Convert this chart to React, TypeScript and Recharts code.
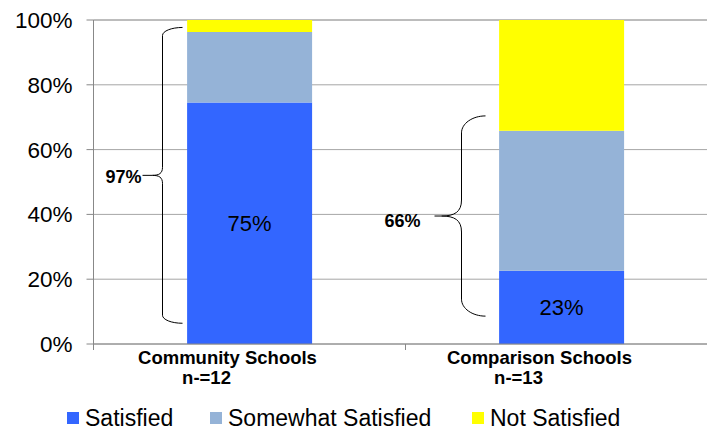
import React from 'react';
import {
  BarChart,
  Bar,
  XAxis,
  YAxis,
  CartesianGrid,
  Legend,
  LabelList,
  ReferenceArea,
} from 'recharts';

const categories = ['Community Schools', 'Comparison Schools'];
const sampleSizes = ['n-=12', 'n-=13'];
const satisfied = [74.5, 22.6];
const somewhatSatisfied = [21.8, 43.2];
const notSatisfied = [3.7, 34.2];
const braceLabels = ['97%', '66%'];
const braceLow = [6.4, 8.6];
const braceHigh = [97.7, 70.4];
const yTicks = [0, 20, 40, 60, 80, 100];

const SERIES = [
  { key: 'Satisfied', color: '#3366FF' },
  { key: 'Somewhat Satisfied', color: '#95B3D7' },
  { key: 'Not Satisfied', color: '#FFFF00' },
];

const data = categories.map((name, i) => ({
  name,
  Satisfied: satisfied[i],
  'Somewhat Satisfied': somewhatSatisfied[i],
  'Not Satisfied': notSatisfied[i],
}));

const FONT = '"Liberation Sans", Arial, sans-serif';
const CHART_W = 720;
const CHART_H = 430;
const Y_AXIS_W = 93.5;
const MARGIN = { top: 20, right: 2.5, left: 0, bottom: 36 };
const BAND = (CHART_W - Y_AXIS_W - MARGIN.left - MARGIN.right) / categories.length;

// per-brace look: x offset inside the band, tip width, cusp depth, curl heights, lead line, label gap
const braceStyles = [
  { offset: 69, tip: 20, curl: 8, cusp: 10, cuspH: 8, lead: 10, gap: 1, dy: 2 },
  { offset: 56, tip: 24, curl: 17, cusp: 20, cuspH: 16, lead: 7, gap: 14, dy: 5 },
];

function braceShape(i: number) {
  return (props: any) => {
    const { x, y, height } = props;
    if (x == null || y == null) return null;
    const s = braceStyles[i];
    const X = x + s.offset;
    const top = y;
    const bot = y + height;
    const mid = y + height / 2;
    const d = [
      `M${X + s.tip},${top}`,
      `C${X + s.tip * 0.45},${top} ${X},${top + s.curl * 0.45} ${X},${top + s.curl}`,
      `L${X},${mid - s.cuspH}`,
      `C${X},${mid - s.cuspH * 0.25} ${X - s.cusp * 0.35},${mid} ${X - s.cusp},${mid}`,
      `C${X - s.cusp * 0.35},${mid} ${X},${mid + s.cuspH * 0.25} ${X},${mid + s.cuspH}`,
      `L${X},${bot - s.curl}`,
      `C${X},${bot - s.curl * 0.45} ${X + s.tip * 0.45},${bot} ${X + s.tip},${bot}`,
    ].join(' ');
    const leadStart = X - s.cusp - s.lead;
    return (
      <g>
        <path d={d} fill="none" stroke="#000" strokeWidth={1} />
        <line x1={leadStart} y1={mid} x2={X - s.cusp} y2={mid} stroke="#000" strokeWidth={1} />
        <text
          x={leadStart - s.gap}
          y={mid + s.dy}
          textAnchor="end"
          dominantBaseline="central"
          fontFamily={FONT}
          fontWeight="bold"
          fontSize={18}
          fill="#000"
        >
          {braceLabels[i]}
        </text>
      </g>
    );
  };
}

const XTick = (props: any) => {
  const { x, y, payload, index } = props;
  const i = categories.indexOf(payload.value);
  return (
    <g>
      <line x1={x - BAND / 2} y1={y} x2={x - BAND / 2} y2={y + 6} stroke="#888" />
      {index === categories.length - 1 && (
        <line x1={x + BAND / 2} y1={y} x2={x + BAND / 2} y2={y + 6} stroke="#888" />
      )}
      <text x={x - 22} y={y + 20} textAnchor="middle" fontFamily={FONT} fontWeight="bold" fontSize={18.5} fill="#000">
        {payload.value}
      </text>
      <text x={x - 43} y={y + 40} textAnchor="middle" fontFamily={FONT} fontWeight="bold" fontSize={18.5} fill="#000">
        {sampleSizes[i]}
      </text>
    </g>
  );
};

const itemWidths = [143, 262, 200];

const LegendContent = () => (
  <div style={{ display: 'flex', fontFamily: FONT, fontSize: 23, lineHeight: '24px', color: '#000' }}>
    {SERIES.map((s, i) => (
      <div key={s.key} style={{ width: itemWidths[i], display: 'flex', alignItems: 'center', whiteSpace: 'nowrap' }}>
        <span style={{ width: 12, height: 12, background: s.color, marginRight: 6, display: 'inline-block' }} />
        <span>{s.key}</span>
      </div>
    ))}
  </div>
);

export default function App() {
  return (
    <div style={{ position: 'absolute', left: 0, top: 0, width: 707, height: 430, overflow: 'hidden', background: '#fff' }}>
      <BarChart width={CHART_W} height={CHART_H} data={data} margin={MARGIN} barCategoryGap="30%">
        <CartesianGrid vertical={false} stroke="#a6a6a6" />
        <XAxis
          dataKey="name"
          height={50}
          axisLine={{ stroke: '#888' }}
          tickLine={false}
          tickSize={0}
          tickMargin={0}
          interval={0}
          tick={<XTick />}
        />
        <YAxis
          width={Y_AXIS_W}
          domain={[0, 100]}
          ticks={yTicks}
          tickFormatter={(v: number) => `${v}%`}
          axisLine={{ stroke: '#888' }}
          tickLine={{ stroke: '#888' }}
          tickSize={7}
          tickMargin={14}
          tick={{ fontFamily: FONT, fontSize: 22.5, fill: '#000' }}
        />
        {SERIES.map((s) => (
          <Bar key={s.key} dataKey={s.key} stackId="a" fill={s.color} isAnimationActive={false}>
            {s.key === 'Satisfied' && (
              <LabelList
                dataKey={s.key}
                position="center"
                formatter={(v: any) => `${Math.round(Number(v))}%`}
                style={{ fontFamily: FONT, fontSize: 22, fill: '#000' }}
              />
            )}
          </Bar>
        ))}
        {categories.map((c, i) => (
          <ReferenceArea
            key={c}
            x1={c}
            x2={c}
            y1={braceLow[i]}
            y2={braceHigh[i]}
            ifOverflow="visible"
            shape={braceShape(i)}
          />
        ))}
        <Legend
          verticalAlign="middle"
          align="center"
          wrapperStyle={{ top: 406, left: 67, width: 620, height: 24 }}
          content={<LegendContent />}
        />
      </BarChart>
    </div>
  );
}
